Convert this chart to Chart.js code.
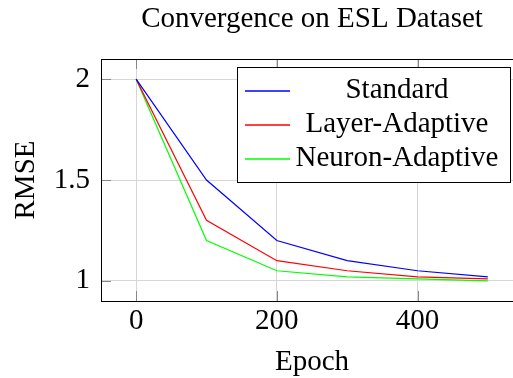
<!DOCTYPE html>
<html>
<head>
<meta charset="utf-8">
<script src="https://cdn.jsdelivr.net/npm/chart.js@4/dist/chart.umd.min.js"></script>
<style>
  html, body { margin: 0; padding: 0; overflow: hidden; background: #fff; }
  canvas { display: block; }
</style>
</head>
<body>
<canvas id="chart" width="530" height="378"></canvas>
<script>
const epochs = [0, 100, 200, 300, 400, 500];
const standard = [2.0, 1.5, 1.2, 1.1, 1.05, 1.02];
const layerAdaptive = [2.0, 1.3, 1.1, 1.05, 1.02, 1.01];
const neuronAdaptive = [2.0, 1.2, 1.05, 1.02, 1.01, 1.0];
const xTicks = [0, 200, 400];
const yTicks = [1, 1.5, 2];
const chartTitle = 'Convergence on ESL Dataset';

const serif = "'Liberation Serif', 'Times New Roman', serif";
const fontSize = 29;

const toPoints = vals => vals.map((v, i) => ({ x: epochs[i], y: v }));

// title over the plot, axis box, inside tick marks and the pgfplots-style legend
const frame = {
  id: 'frame',
  afterDraw(chart) {
    const { ctx, chartArea: a, scales } = chart;
    ctx.save();

    ctx.fillStyle = '#000';
    ctx.font = fontSize + 'px ' + serif;
    ctx.textAlign = 'center';
    ctx.textBaseline = 'alphabetic';
    ctx.fillText(chartTitle, (a.left + a.right) / 2, 27);

    ctx.strokeStyle = '#888';
    ctx.lineWidth = 1;
    const t = 10;
    xTicks.forEach(v => {
      const x = Math.round(scales.x.getPixelForValue(v)) + 0.5;
      ctx.beginPath();
      ctx.moveTo(x, a.bottom); ctx.lineTo(x, a.bottom - t);
      ctx.moveTo(x, a.top); ctx.lineTo(x, a.top + t);
      ctx.stroke();
    });
    yTicks.forEach(v => {
      const y = Math.round(scales.y.getPixelForValue(v)) + 0.5;
      ctx.beginPath();
      ctx.moveTo(a.left, y); ctx.lineTo(a.left + t, y);
      ctx.moveTo(a.right, y); ctx.lineTo(a.right - t, y);
      ctx.stroke();
    });
    ctx.strokeStyle = '#000';
    ctx.strokeRect(Math.round(a.left) + 0.5, Math.round(a.top) + 0.5,
      Math.round(a.right - a.left), Math.round(a.bottom - a.top));

    // legend
    const bx = Math.round(a.right - 286), by = Math.round(a.top + 7.5), bw = 273, bh = 115;
    ctx.fillStyle = '#fff';
    ctx.fillRect(bx, by, bw, bh);
    ctx.strokeStyle = '#000';
    ctx.strokeRect(bx + 0.5, by + 0.5, bw, bh);
    ctx.font = fontSize + 'px ' + serif;
    ctx.textAlign = 'center';
    ctx.textBaseline = 'middle';
    chart.data.datasets.forEach((ds, i) => {
      const y = 2 * Math.round((by + 23 + i * 34.5 - 1) / 2) + 1;
      ctx.strokeStyle = ds.borderColor;
      ctx.lineWidth = 1.4;
      ctx.beginPath();
      ctx.moveTo(bx + 8, y); ctx.lineTo(bx + 53, y);
      ctx.stroke();
      ctx.fillStyle = '#000';
      ctx.fillText(ds.label, bx + 160, y - 1);
    });
    ctx.restore();
  }
};

new Chart(document.getElementById('chart'), {
  type: 'line',
  data: {
    datasets: [
      { label: 'Standard', data: toPoints(standard), borderColor: '#0000ff' },
      { label: 'Layer-Adaptive', data: toPoints(layerAdaptive), borderColor: '#ff0000' },
      { label: 'Neuron-Adaptive', data: toPoints(neuronAdaptive), borderColor: '#00ff00' }
    ]
  },
  options: {
    responsive: false,
    animation: false,
    devicePixelRatio: 1,
    layout: { padding: { left: 0, right: 7, top: 59, bottom: 0 } },
    elements: {
      line: { borderWidth: 1.2, tension: 0, fill: false },
      point: { radius: 0 }
    },
    plugins: {
      legend: { display: false },
      tooltip: { enabled: false },
      title: { display: false }
    },
    scales: {
      x: {
        type: 'linear',
        min: -50,
        max: 550,
        afterBuildTicks: s => { s.ticks = xTicks.map(v => ({ value: v })); },
        afterFit: s => { s.height = 77; },
        grid: { color: '#d6d6d6', drawTicks: false },
        border: { display: false },
        ticks: { color: '#000', padding: 3, maxRotation: 0, font: { family: serif, size: fontSize } },
        title: {
          display: true, text: 'Epoch', color: '#000',
          font: { family: serif, size: fontSize, lineHeight: 1.1 },
          padding: { top: 0, bottom: 0 }
        }
      },
      y: {
        min: 0.9,
        max: 2.1,
        afterBuildTicks: s => { s.ticks = yTicks.map(v => ({ value: v })); },
        afterFit: s => { s.width = 101; },
        grid: { color: '#d6d6d6', drawTicks: false },
        border: { display: false },
        ticks: {
          color: '#000', padding: 11, font: { family: serif, size: fontSize },
          callback: v => String(v)
        },
        title: {
          display: true, text: 'RMSE', color: '#000',
          font: { family: serif, size: fontSize, lineHeight: 1.1 },
          padding: { top: 10, bottom: 0 }
        }
      }
    }
  },
  plugins: [frame]
});
</script>
</body>
</html>
